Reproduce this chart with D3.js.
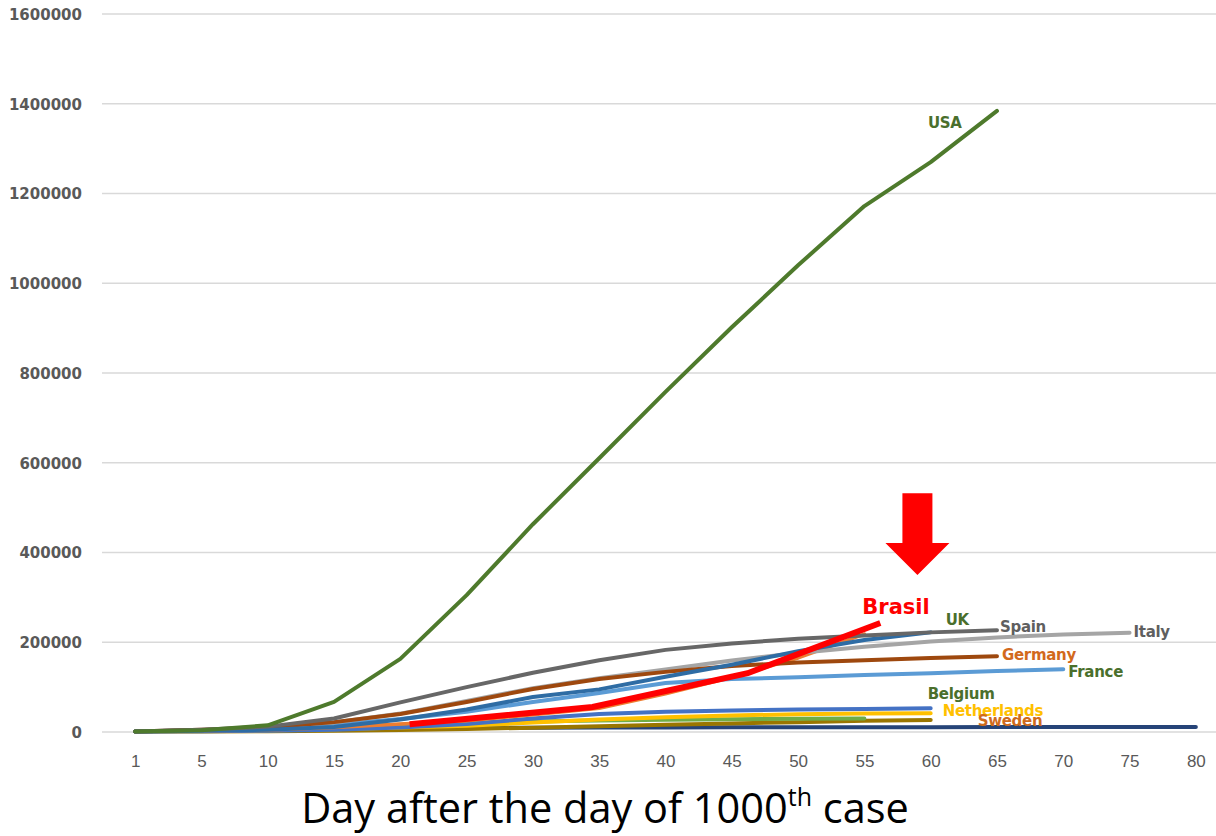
<!DOCTYPE html>
<html>
<head>
<meta charset="utf-8">
<script src="https://cdn.jsdelivr.net/npm/d3@7/dist/d3.min.js"></script>
<style>
  html, body { margin: 0; padding: 0; background: #fff; }
  svg { display: block; }
</style>
</head>
<body>
<svg id="chart" width="1216" height="836"></svg>
<script>
// ---------- DATA ----------
const categories = ["1","5","10","15","20","25","30","35","40","45","50","55","60","65","70","75","80"];
const yTicks = [0, 200000, 400000, 600000, 800000, 1000000, 1200000, 1400000, 1600000];

const korea       = [1300, 3700, 6600, 7800, 8300, 8900, 9600, 10000, 10300, 10500, 10700, 10750, 10800, 10900, 10950, 11000, 11100];
const sweden      = [1000, 1300, 1800, 2800, 4400, 6800, 9700, 13000, 16000, 19000, 22000, 25000, 27000];
const switzerland = [1100, 2700, 6000, 10700, 15900, 20300, 23500, 25700, 27400, 28500, 29400, 30000];
const netherlands = [1100, 2000, 3600, 6400, 9800, 14000, 21000, 28000, 33000, 37000, 39500, 41000, 42000];
const belgium     = [1100, 1800, 3000, 5000, 10000, 18000, 30000, 40000, 45000, 48000, 50000, 51000, 53000];
const brazilBase  = [1100, 2400, 4600, 10300, 17900, 25300, 38700, 53000, 85000, 122000, 165000, 218000];
const france      = [1100, 4500, 9000, 16000, 29000, 45000, 67000, 87000, 109000, 118000, 122000, 127000, 131000, 136000, 140000];
const italy       = [1100, 3100, 9200, 21000, 41000, 69000, 97700, 119800, 139400, 159500, 175900, 190000, 201500, 210700, 217200, 221200];
const germany     = [1100, 4800, 10000, 22000, 40000, 67000, 96000, 118000, 134000, 147000, 155000, 160000, 165000, 169000];
const uk          = [1100, 2700, 5000, 11000, 28000, 50000, 78000, 95000, 123000, 150000, 180000, 205000, 222000];
const spain       = [1200, 5200, 12000, 30000, 66000, 100000, 132000, 160000, 183000, 197000, 208000, 215000, 222000, 227000];
const usa         = [1000, 4000, 15000, 67000, 163000, 305000, 463000, 610000, 758000, 902000, 1040000, 1172000, 1270000, 1384000];

// hand-drawn Brasil overlay (day, cases)
const brasilDays   = [20.7, 34.5, 46.2, 56.2];
const brasilValues = [17500, 55700, 131000, 243000];

// arrow annotation (day, top value, shaft-bottom value, tip value)
const arrowDay = 59;
const arrowValues = [532000, 421000, 350000];

// ---------- STYLE / LAYOUT ----------
const seriesStyle = [
  {name: "Korea",       data: korea,       color: "#264478", width: 4},
  {name: "Sweden",      data: sweden,      color: "#9a7600", width: 4},
  {name: "Switzerland", data: switzerland, color: "#70ad47", width: 4},
  {name: "Netherlands", data: netherlands, color: "#ffc000", width: 4},
  {name: "Belgium",     data: belgium,     color: "#4472c4", width: 4},
  {name: "BrazilBase",  data: brazilBase,  color: "#ed7d31", width: 3.5},
  {name: "France",      data: france,      color: "#5b9bd5", width: 4},
  {name: "Italy",       data: italy,       color: "#a5a5a5", width: 4},
  {name: "Germany",     data: germany,     color: "#9e480e", width: 4},
  {name: "UK",          data: uk,          color: "#2e6ca4", width: 4},
  {name: "Spain",       data: spain,       color: "#676767", width: 4},
  {name: "USA",         data: usa,         color: "#4e7a2c", width: 4}
];

const labelStyle = [
  {series: "USA",         text: "USA",         color: "#4a6f2c", dx: -69, dy: 17,  size: 15},
  {series: "UK",          text: "UK",          color: "#4a6f2c", dx: 15,  dy: -7,  size: 15},
  {series: "Spain",       text: "Spain",       color: "#5f5f5f", dx: 3,   dy: 2,   size: 15},
  {series: "Italy",       text: "Italy",       color: "#5f5f5f", dx: 4,   dy: 4,   size: 15},
  {series: "Germany",     text: "Germany",     color: "#d2691c", dx: 5,   dy: 4,   size: 15},
  {series: "France",      text: "France",      color: "#4a6f2c", dx: 5,   dy: 8,   size: 15},
  {series: "Belgium",     text: "Belgium",     color: "#4a6f2c", dx: -3,  dy: -9,  size: 15},
  {series: "Netherlands", text: "Netherlands", color: "#ffc000", dx: 12,  dy: 3,   size: 15},
  {series: "Sweden",      text: "Sweden",      color: "#cf6a1c", dx: 47,  dy: 6,   size: 15}
];

const svg = d3.select("#chart");
const plotLeft = 102, plotRightVirtual = 1229, plotTop = 14, plotBottom = 732;

const x = d3.scalePoint().domain(categories).range([plotLeft, plotRightVirtual]).padding(0.5);
const y = d3.scaleLinear().domain([0, 1600000]).range([plotBottom, plotTop]);
const xDay = d3.scaleLinear().domain([5, 80]).range([x("5"), x("80")]);

// gridlines
svg.append("g")
  .selectAll("line")
  .data(yTicks)
  .join("line")
  .attr("x1", plotLeft).attr("x2", 1216)
  .attr("y1", d => y(d)).attr("y2", d => y(d))
  .attr("stroke", "#d9d9d9").attr("stroke-width", 1.3);

// y axis labels
const yAxis = d3.axisLeft(y).tickValues(yTicks).tickSize(0).tickPadding(0).tickFormat(d3.format("d"));
const gy = svg.append("g").attr("transform", "translate(82,0)").call(yAxis);
gy.select(".domain").remove();
gy.selectAll("text")
  .attr("fill", "#595959")
  .attr("font-family", "'DejaVu Sans', sans-serif")
  .attr("font-weight", "bold")
  .attr("font-size", 15)
  .attr("dy", "0.36em");

// x axis labels
const xAxis = d3.axisBottom(x).tickSize(0).tickPadding(0);
const gx = svg.append("g").attr("transform", "translate(0,755)").call(xAxis);
gx.select(".domain").remove();
gx.selectAll("text")
  .attr("fill", "#595959")
  .attr("font-family", "'Liberation Sans', Arial, sans-serif")
  .attr("font-size", 17)
  .attr("dy", "0.72em");

// lines
const line = d3.line()
  .defined(d => d.v != null)
  .x(d => x(d.c))
  .y(d => y(d.v));

const seriesG = svg.append("g");
seriesStyle.forEach(s => {
  const pts = s.data.map((v, i) => ({c: categories[i], v}));
  seriesG.append("path")
    .datum(pts)
    .attr("d", line)
    .attr("fill", "none")
    .attr("stroke", s.color)
    .attr("stroke-width", s.width)
    .attr("stroke-linejoin", "round")
    .attr("stroke-linecap", "round");
});

// Brasil overlay
const brasilLine = d3.line().x(d => xDay(d[0])).y(d => y(d[1]));
svg.append("path")
  .datum(d3.zip(brasilDays, brasilValues))
  .attr("d", brasilLine)
  .attr("fill", "none")
  .attr("stroke", "#ff0000")
  .attr("stroke-width", 6)
  .attr("stroke-linejoin", "miter")
  .attr("stroke-linecap", "butt");

// labels
const endPoint = name => {
  const s = seriesStyle.find(d => d.name === name);
  const i = s.data.length - 1;
  return [x(categories[i]), y(s.data[i])];
};
labelStyle.forEach(l => {
  const [ex, ey] = endPoint(l.series);
  svg.append("text")
    .attr("x", ex + l.dx).attr("y", ey + l.dy)
    .attr("fill", l.color)
    .attr("font-family", "'DejaVu Sans', sans-serif")
    .attr("font-weight", "bold")
    .attr("font-size", l.size)
    .attr("letter-spacing", "-0.3")
    .text(l.text);
});

// Brasil label
const bEnd = [xDay(brasilDays[brasilDays.length - 1]), y(brasilValues[brasilValues.length - 1])];
svg.append("text")
  .attr("x", bEnd[0] - 18).attr("y", bEnd[1] - 9)
  .attr("fill", "#ff0000")
  .attr("font-family", "'DejaVu Sans', sans-serif")
  .attr("font-weight", "bold")
  .attr("font-size", 21)
  .text("Brasil");

// arrow
const ax = xDay(arrowDay);
const [aTop, aMid, aTip] = arrowValues.map(v => y(v));
svg.append("path")
  .attr("d", `M${ax - 15},${aTop} L${ax + 15},${aTop} L${ax + 15},${aMid} L${ax + 32},${aMid} L${ax},${aTip} L${ax - 32},${aMid} L${ax - 15},${aMid} Z`)
  .attr("fill", "#ff0000");

// title
const title = svg.append("text")
  .attr("x", 605).attr("y", 823)
  .attr("text-anchor", "middle")
  .attr("fill", "#000")
  .attr("font-family", "'Open Sans', 'Noto Sans', sans-serif")
  .attr("font-size", 41.5);
title.append("tspan").text("Day after the day of 1000");
title.append("tspan").attr("font-size", 25).attr("dy", -17).text("th");
title.append("tspan").attr("dy", 17).text(" case");
</script>
</body>
</html>
